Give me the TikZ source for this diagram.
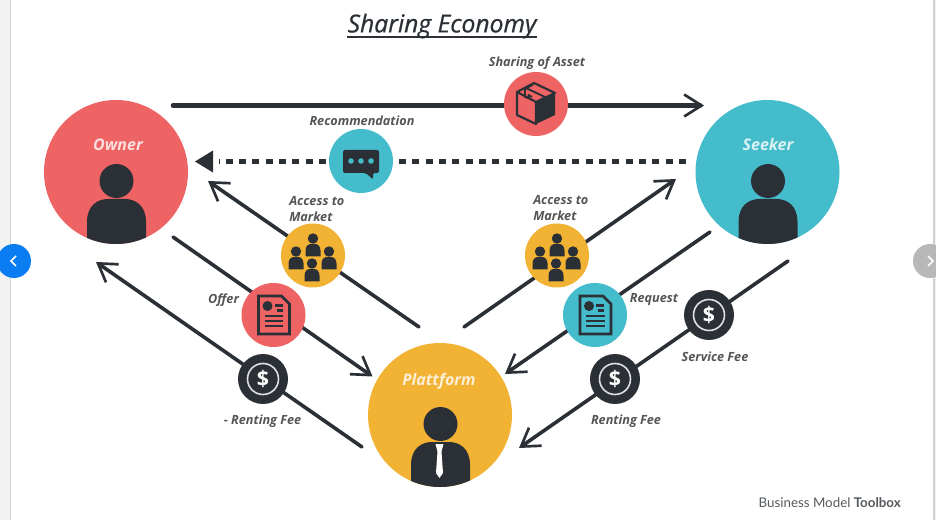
\documentclass[tikz,border=0pt]{standalone}
\usepackage{fontspec}
\setmainfont{Open Sans}
\newfontfamily\brandfont{Lato}
\newfontfamily\semifont[ItalicFeatures={RawFeature={embolden=0.7}}]{Open Sans}
\usetikzlibrary{arrows.meta}
\definecolor{inkdark}{HTML}{2B3036}
\definecolor{coral}{HTML}{EE6363}
\definecolor{teal}{HTML}{45BCCB}
\definecolor{amber}{HTML}{F2B233}
\definecolor{labelgray}{HTML}{555555}
\definecolor{btnblue}{HTML}{0A7DF2}
\tikzset{
  x=0.75pt,y=-0.75pt,
  bigdisc/.style={circle,minimum size=108pt,inner sep=0pt},
  smalldisc/.style={circle,minimum size=48pt,inner sep=0pt},
  feedisc/.style={circle,fill=inkdark,minimum size=37.5pt,inner sep=0pt},
  flow/.style={draw=inkdark,line width=2.7pt,line cap=round,
    -{Straight Barb[length=13pt,width=16.5pt,line width=2pt]}},
  toplabel/.style={font=\fontsize{12}{14}\selectfont\itshape\bfseries,text=white,opacity=.8,inner sep=0pt},
  steplabel/.style={font=\fontsize{9.5}{12}\selectfont\itshape\bfseries,text=labelgray,inner sep=0pt,yshift=-0.75pt},
  marketlabel/.style={steplabel,align=left,anchor=north west},
  personicon/.pic={
    \begin{scope}
      \clip (0,0) circle (72);
      \fill[inkdark] (0.5,9) circle (17);
      \fill[inkdark] (-29,80) -- (-29,50) .. controls (-29,33) and (-18,27) .. (-8,27)
        -- (9,27) .. controls (19,27) and (30,33) .. (30,50) -- (30,80) -- cycle;
    \end{scope}
  },
  tieicon/.pic={
    \fill[white] (-4.5,29) -- (3.5,29) -- (1.5,36.5) -- (3,58) -- (-0.5,63) -- (-4,58) -- (-2.5,36.5) -- cycle;
  },
  boxicon/.pic={
    \draw[inkdark,line width=1.6pt,line join=round] (-19,-12) -- (-2,-21) -- (19,-11) -- (0,-2) -- cycle;
    \draw[inkdark,line width=1.6pt,line join=round] (-19,-12) -- (-19,11) -- (0,20) -- (0,-2);
    \fill[inkdark] (0,-2) -- (19,-11) -- (19,11) -- (0,20) -- cycle;
    \draw[inkdark,line width=1.4pt,line join=round] (-10,-16) -- (10,-6.5) -- (4,-4);
    \draw[inkdark,line width=1.4pt,line join=round] (-3,-19.5) -- (-11,-15) -- (-11,-7) -- (-7.5,-6) -- (-7.5,-9) -- (-4,-7);
  },
  minipeep/.pic={
    \fill[inkdark] (0,0) circle (5.2);
    \fill[inkdark] (-7.5,18) -- (-7.5,12) .. controls (-7.5,7) and (-4,5.5) .. (-2,5.5)
      -- (2,5.5) .. controls (4,5.5) and (7.5,7) .. (7.5,12) -- (7.5,18) -- cycle;
  },
  crowdicon/.pic={
    \pic at (0,-17) {minipeep};
    \pic at (-17,-4) {minipeep};
    \pic at (16,-4) {minipeep};
    \pic at (-1,8) {minipeep};
  },
  docicon/.pic={
    \draw[inkdark,line width=2pt,line join=miter] (-15,-19) -- (8,-19) -- (16,-11) -- (16,19) -- (-15,19) -- cycle;
    \fill[inkdark] (-6,-9) circle (5);
    \draw[inkdark,line width=1.6pt] (1,-9.5) -- (9,-9.5) (3,-4.5) -- (9,-4.5)
      (-9,1) -- (9.5,1) (-9,6) -- (9.5,6) (-9,11) -- (9.5,11);
  },
  chaticon/.pic={
    \fill[inkdark,rounded corners=1.5pt] (-18,-11) -- (18,-11) -- (18,12) -- (12,12) -- (12,18.5) -- (5,12) -- (-18,12) -- cycle;
    \fill[teal] (-10,0) circle (2.8) (0,0) circle (2.8) (10,0) circle (2.8);
  },
  ringicon/.pic={
    \draw[white,opacity=.85,line width=1.2pt] (0,0) circle (15.5);
  },
}
\begin{document}
\begin{tikzpicture}
\useasboundingbox (0,0) rectangle (936,520);
\fill[white] (0,0) rectangle (936,520);
\fill[black!5] (0,0) rectangle (10,520);
\fill[black!5] (934,0) rectangle (936,520);
\draw[black!18,line width=0.8pt] (10.5,0) -- (10.5,520) (934,0) -- (934,520);

% carousel buttons
\node[circle,fill=btnblue,minimum size=25.5pt,inner sep=0pt] (prevbtn) at (14,261) {};
\node[circle,fill=black!28,minimum size=25.5pt,inner sep=0pt] (nextbtn) at (930,261) {};
\draw[white,line width=1.1pt] ([shift={(2,-5)}]prevbtn.center) -- ++(-5,5) -- ++(5,5);
\draw[white,line width=1.1pt] ([shift={(-2,-5)}]nextbtn.center) -- ++(5,5) -- ++(-5,5);

% connector ends
\coordinate (shareFrom) at (173,105.5);
\coordinate (shareTo) at (704,105.5);
\coordinate (recoFrom) at (686,161.5);
\coordinate (recoTo) at (219,161.5);
\coordinate (recoTip) at (195,161.5);
\coordinate (accLFrom) at (419,327);
\coordinate (accLTo) at (208,181);
\coordinate (accRFrom) at (464,327);
\coordinate (accRTo) at (676,179);
\coordinate (offerFrom) at (173,237);
\coordinate (offerTo) at (372.5,376.5);
\coordinate (reqFrom) at (710,232);
\coordinate (reqTo) at (505,374);
\coordinate (rentLFrom) at (362,447);
\coordinate (rentLTo) at (96,262);
\coordinate (feeFrom) at (788,261);
\coordinate (feeTo) at (519,448);
\coordinate (titleRule) at (0,37);

% connectors
\draw[draw=inkdark,line width=3.4pt,line cap=round,
  -{Straight Barb[length=13pt,width=16.5pt,line width=2pt]}] (shareFrom) -- (shareTo);
\draw[inkdark,line width=3.4pt,dash pattern=on 5.2pt off 4.8pt] (recoFrom) -- (recoTo);
\fill[inkdark] (recoTip) -- ++(18,-11) -- ++(0,22) -- cycle;
\draw[flow] (accLFrom) -- (accLTo);
\draw[flow] (accRFrom) -- (accRTo);
\draw[flow] (offerFrom) -- (offerTo);
\draw[flow] (reqFrom) -- (reqTo);
\draw[flow] (rentLFrom) -- (rentLTo);
\draw[flow] (feeFrom) -- (feeTo);

% main actors
\node[bigdisc,fill=coral] (owner) at (116,172) {};
\node[bigdisc,fill=teal] (seeker) at (767.5,172) {};
\node[bigdisc,fill=amber] (platform) at (440,415) {};
\pic at (owner) {personicon};
\pic at (seeker) {personicon};
\pic at (platform) {personicon};
\pic at (platform) {tieicon};
\node[toplabel] (ownerlabel) at (118,145) {Owner};
\node[toplabel] (seekerlabel) at (768,145) {Seeker};
\node[toplabel] (platformlabel) at (439,381) {Plattform};

% exchanged items
\node[smalldisc,fill=coral] (share) at (536,104) {};
\pic at (share) {boxicon};
\node[smalldisc,fill=teal] (reco) at (361,161) {};
\pic at (reco) {chaticon};
\node[smalldisc,fill=amber] (accL) at (313,255.5) {};
\pic at (accL) {crowdicon};
\node[smalldisc,fill=amber] (accR) at (557,255.5) {};
\pic at (accR) {crowdicon};
\node[smalldisc,fill=coral] (offer) at (273.5,315) {};
\pic at (offer) {docicon};
\node[smalldisc,fill=teal] (request) at (595,315) {};
\pic at (request) {docicon};
\node[feedisc,font=\fontsize{16}{18}\selectfont\bfseries,text=white] (feeL) at (263,379) {\$};
\pic at (feeL) {ringicon};
\node[feedisc,font=\fontsize{16}{18}\selectfont\bfseries,text=white] (feeS) at (709,315) {\$};
\pic at (feeS) {ringicon};
\node[feedisc,font=\fontsize{16}{18}\selectfont\bfseries,text=white] (feeR) at (615,379) {\$};
\pic at (feeR) {ringicon};

% labels
\node[font=\fontsize{18.5}{22}\semifont\selectfont\itshape,text=inkdark,inner sep=0pt] (title) at (442,26) {Sharing Economy};
\draw[inkdark,line width=1.8pt] (title.west |- titleRule) -- (title.east |- titleRule);
\node[steplabel] (lshare) at (537,62) {Sharing of Asset};
\node[steplabel] (lreco) at (362,120) {Recommendation};
\node[marketlabel] (laccL) at (289,195) {Access to\\Market};
\node[marketlabel] (laccR) at (533,194) {Access to\\Market};
\node[steplabel] (loffer) at (223.5,299) {Offer};
\node[steplabel] (lrequest) at (654,299) {Request};
\node[steplabel] (lservice) at (715,356) {Service Fee};
\node[steplabel] (lrentR) at (626,420) {Renting Fee};
\node[steplabel] (lrentL) at (262.5,420) {- Renting Fee};
\node[font=\fontsize{10}{12}\brandfont\selectfont,text=inkdark!80,anchor=east,inner sep=0pt] (brand) at (901,503) {Business Model \textbf{Toolbox}};
\end{tikzpicture}
\end{document}
